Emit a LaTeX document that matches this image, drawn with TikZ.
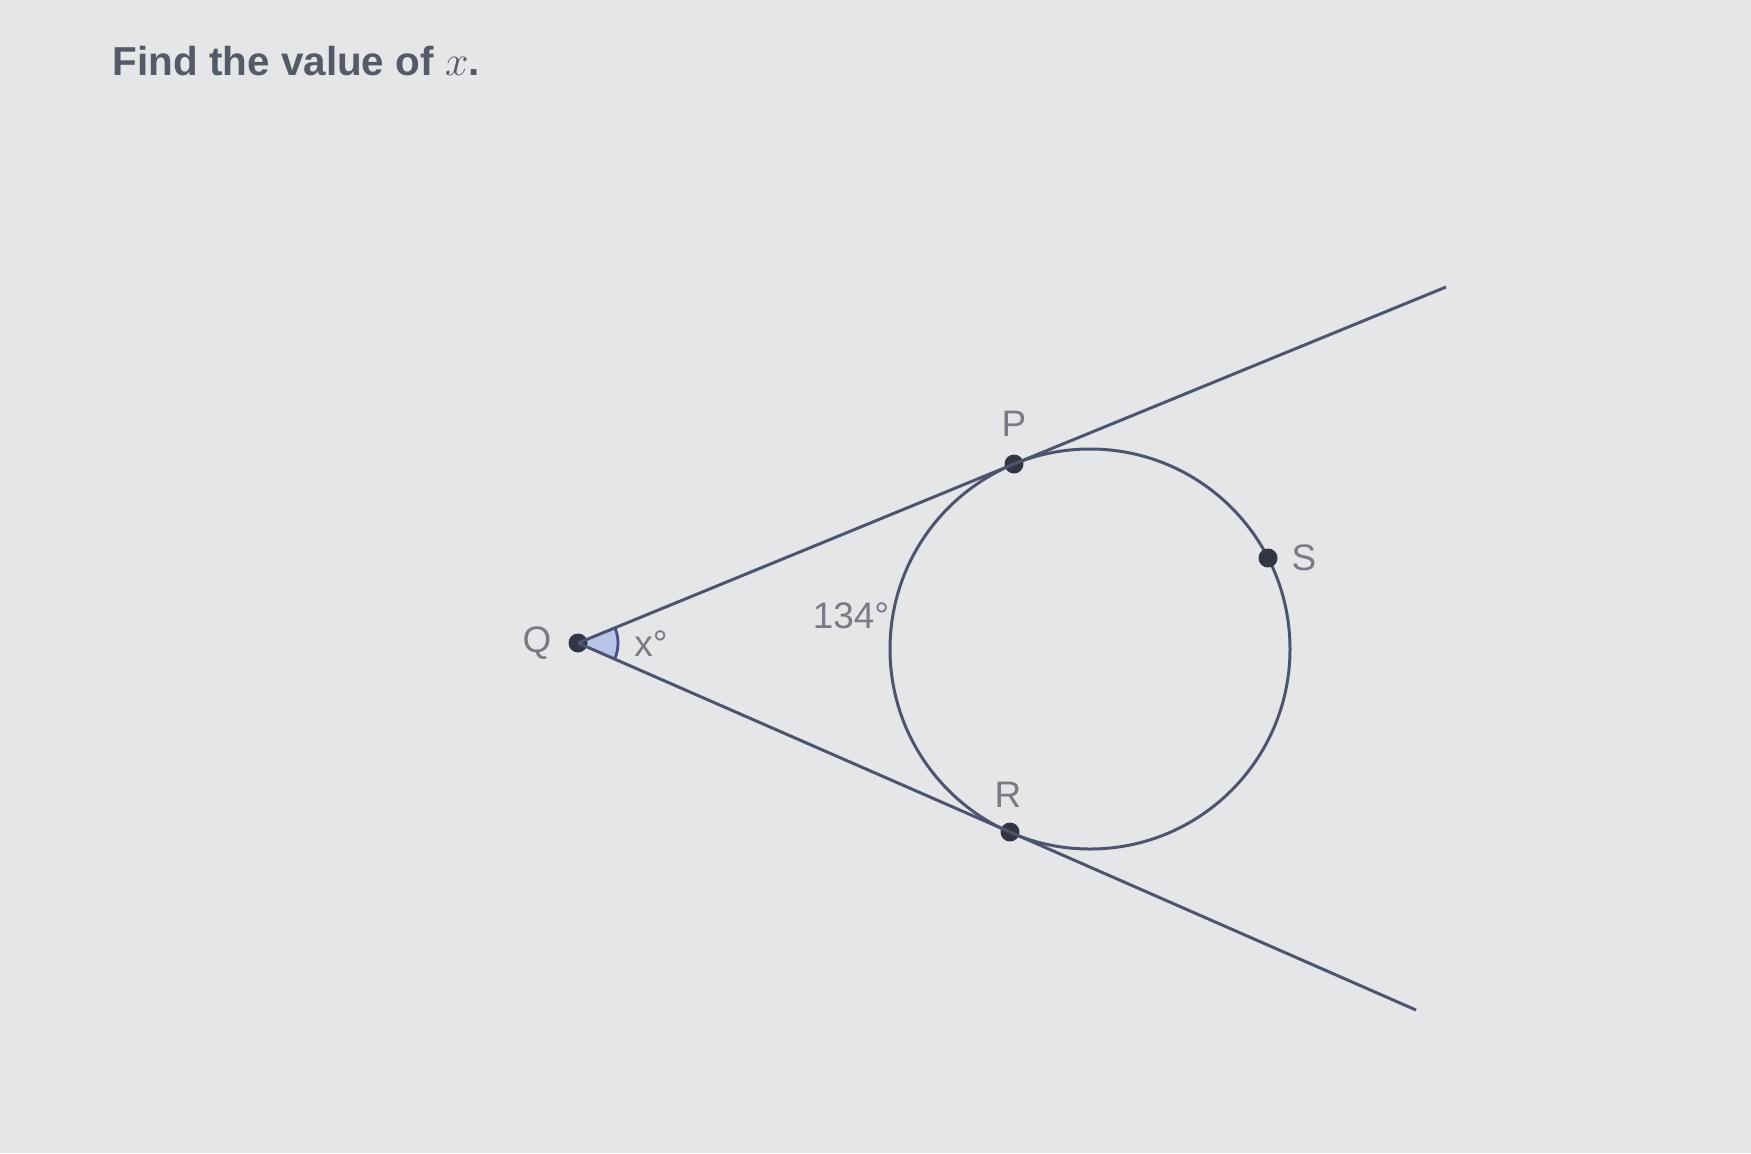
\documentclass[tikz,border=0pt]{standalone}
\usepackage{fontspec}
\setmainfont{Liberation Sans}
\usetikzlibrary{calc}
\definecolor{bgcol}{RGB}{228,230,232}
\definecolor{linecol}{RGB}{78,84,112}
\definecolor{dotcol}{RGB}{50,53,66}
\definecolor{labcol}{RGB}{120,123,132}
\definecolor{titlecol}{RGB}{85,90,104}
\definecolor{anglefill}{RGB}{184,196,232}
\definecolor{anglearc}{RGB}{70,80,140}
\tikzset{
  geom/.style={draw=linecol, line width=0.85pt},
  dot/.style={circle, fill=dotcol, inner sep=0pt, minimum size=0.19cm},
  lab/.style={text=labcol, font=\fontsize{10.5}{12}\selectfont, inner sep=0pt},
}
\begin{document}
\begin{tikzpicture}[x=0.1mm,y=-0.1mm]
\fill[bgcol] (0,0) rectangle (1751,1153);
\useasboundingbox (0,0) rectangle (1751,1153);

\node[anchor=west, text=titlecol, font=\bfseries\fontsize{11.5}{14}\selectfont, inner sep=0pt] (title) at (112,61) {Find the value of $x$.};

\coordinate (O) at (1090,649);
\coordinate (U) at (1446,287);
\coordinate (L) at (1416,1010);

% angle mark
\coordinate (Qc) at (578,643);
\fill[anglefill] (Qc) -- ++(-22.32:40) arc[start angle=-22.32, end angle=23.66, radius=40] -- cycle;
\draw[anglearc, line width=0.8pt] ($(Qc)+(-22.32:40)$) arc[start angle=-22.32, end angle=23.66, radius=40];

\draw[geom] (O) circle[radius=200];

\node[dot] (Q) at (578,643) {};
\node[dot] (P) at (1014,464) {};
\node[dot] (R) at (1010,832) {};
\node[dot] (S) at (1268,558) {};

\draw[geom] (Q.center) -- (P.center) -- (U);
\draw[geom] (Q.center) -- (R.center) -- (L);

\node[lab] (lQ) at (537,643) {Q};
\node[lab] (lP) at (1014,424) {P};
\node[lab] (lR) at (1008,795) {R};
\node[lab] (lS) at (1304,558) {S};
\node[lab] (lx) at (651,644) {x°};
\node[lab] (l134) at (851,616) {134°};
\end{tikzpicture}
\end{document}
